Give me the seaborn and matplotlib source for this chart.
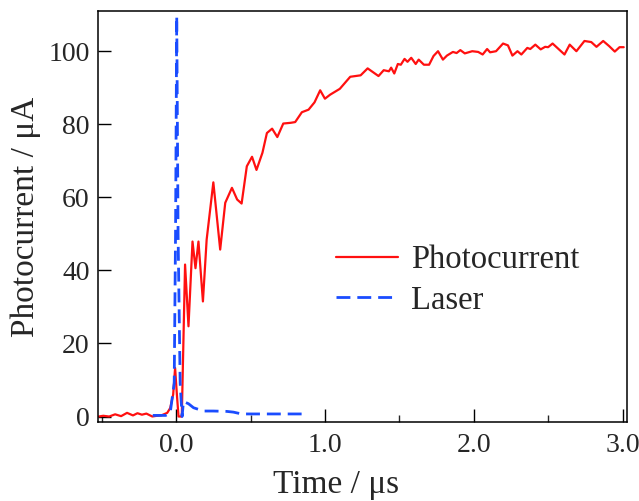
import matplotlib
matplotlib.use("Agg")
import matplotlib.pyplot as plt
import seaborn as sns
import pandas as pd
from matplotlib.ticker import MultipleLocator, FormatStrFormatter

# Photocurrent trace (time in us, current in uA)
pc_time = [-0.52, -0.49, -0.45, -0.41, -0.37, -0.33, -0.29, -0.26, -0.23, -0.20, -0.16,
           -0.13, -0.10, -0.06, -0.04, -0.02, -0.007, 0.005, 0.016, 0.038, 0.06, 0.083,
           0.11, 0.13, 0.15, 0.18, 0.205, 0.25, 0.296, 0.33, 0.375, 0.41, 0.44, 0.475,
           0.51, 0.54, 0.58, 0.61, 0.645, 0.68, 0.72, 0.77, 0.80, 0.845, 0.89, 0.93,
           0.968, 1.0, 1.035, 1.10, 1.17, 1.24, 1.287, 1.36, 1.395, 1.43, 1.445, 1.466,
           1.49, 1.51, 1.535, 1.555, 1.58, 1.61, 1.63, 1.665, 1.70, 1.73, 1.76, 1.793,
           1.82, 1.86, 1.885, 1.91, 1.94, 1.99, 2.03, 2.06, 2.09, 2.11, 2.15, 2.197,
           2.23, 2.26, 2.294, 2.32, 2.36, 2.38, 2.414, 2.45, 2.48, 2.50, 2.53, 2.57,
           2.61, 2.645, 2.69, 2.744, 2.79, 2.825, 2.87, 2.91, 2.948, 2.98, 3.008]
pc_current = [0.0, 0.2, 0.0, 0.6, 0.1, 1.0, 0.3, 0.9, 0.5, 0.8, 0.0,
              0.2, 0.3, 1.0, 2.3, 6.0, 13.3, 6.0, 0.0, 0.0, 41.6, 24.7,
              47.9, 40.6, 47.9, 31.5, 48.4, 64.1, 45.7, 58.5, 62.6, 59.4, 58.3, 68.5,
              71.1, 67.5, 72.2, 77.6, 78.8, 76.5, 80.2, 80.4, 80.6, 83.3, 84.0, 86.0,
              89.3, 87.0, 88.1, 89.7, 93.0, 93.4, 95.3, 93.2, 94.8, 94.5, 95.5, 93.9,
              96.5, 96.3, 97.9, 97.1, 98.2, 96.5, 97.7, 96.3, 96.3, 98.7, 100.0, 97.7,
              98.8, 99.8, 99.5, 100.3, 99.4, 100.0, 99.8, 99.1, 100.6, 99.7, 100.0, 102.1,
              101.6, 98.8, 100.0, 99.1, 100.9, 100.6, 101.8, 100.5, 101.2, 101.1, 102.1, 100.6,
              99.1, 101.8, 100.0, 102.8, 102.5, 101.2, 102.8, 101.4, 99.9, 101.1, 101.1]

# Laser pulse trace (scaled to the same axis)
laser_time = [-0.157, -0.07, -0.04, -0.013, -0.004, 0.004, 0.013, 0.027, 0.04, 0.049,
              0.083, 0.117, 0.184, 0.25, 0.34, 0.385, 0.44, 0.60, 0.77, 0.87]
laser_signal = [0.3, 0.3, 1.0, 9.1, 50.0, 109.6, 50.0, 9.1, 0.0, 4.1,
                3.5, 2.4, 1.5, 1.5, 1.4, 1.2, 0.7, 0.7, 0.7, 0.7]

pc = pd.DataFrame({"time": pc_time, "value": pc_current})
laser = pd.DataFrame({"time": laser_time, "value": laser_signal})

sns.set_style("ticks")
plt.rcParams["font.family"] = ["Liberation Serif", "DejaVu Serif"]

fig = plt.figure(figsize=(6.39, 5.01), dpi=100)
ax = fig.add_axes([0.1534, 0.1577, 0.8278, 0.8203])

sns.lineplot(data=pc, x="time", y="value", ax=ax, color="#ff1010", lw=1.6,
             label="Photocurrent", sort=False)
sns.lineplot(data=laser, x="time", y="value", ax=ax, color="#1a4cff", lw=2.0,
             label="Laser", sort=False)
ax.lines[1].set_dashes([5, 2.5])

ax.set_xlim(-0.525, 3.03)
ax.set_ylim(-1.5, 111)
ax.xaxis.set_major_locator(MultipleLocator(1.0))
ax.xaxis.set_minor_locator(MultipleLocator(0.5))
ax.xaxis.set_major_formatter(FormatStrFormatter("%.1f"))
ax.yaxis.set_major_locator(MultipleLocator(20))

ax.tick_params(axis="both", which="major", direction="in", length=9.5, width=1.0,
               labelsize=20, color="black")
ax.tick_params(axis="x", which="minor", direction="in", length=5, width=1.0)
ax.tick_params(axis="x", which="major", pad=8)
ax.tick_params(axis="y", which="major", pad=6)
for sp in ax.spines.values():
    sp.set_linewidth(1.1)
    sp.set_color("black")

ax.set_xlabel("Time / μs", fontsize=24)
ax.xaxis.set_label_coords(0.45, -0.115, transform=ax.transAxes)
ax.xaxis.label.set_va("top")
ax.set_ylabel("Photocurrent / μA", fontsize=24, labelpad=5)

leg = ax.legend(loc="upper left", bbox_to_anchor=(0.425, 0.463), frameon=False,
                fontsize=23.5, handlelength=1.9, handletextpad=0.4, labelspacing=0.3,
                borderaxespad=0.0)

fig.savefig("out.png", dpi=100)
